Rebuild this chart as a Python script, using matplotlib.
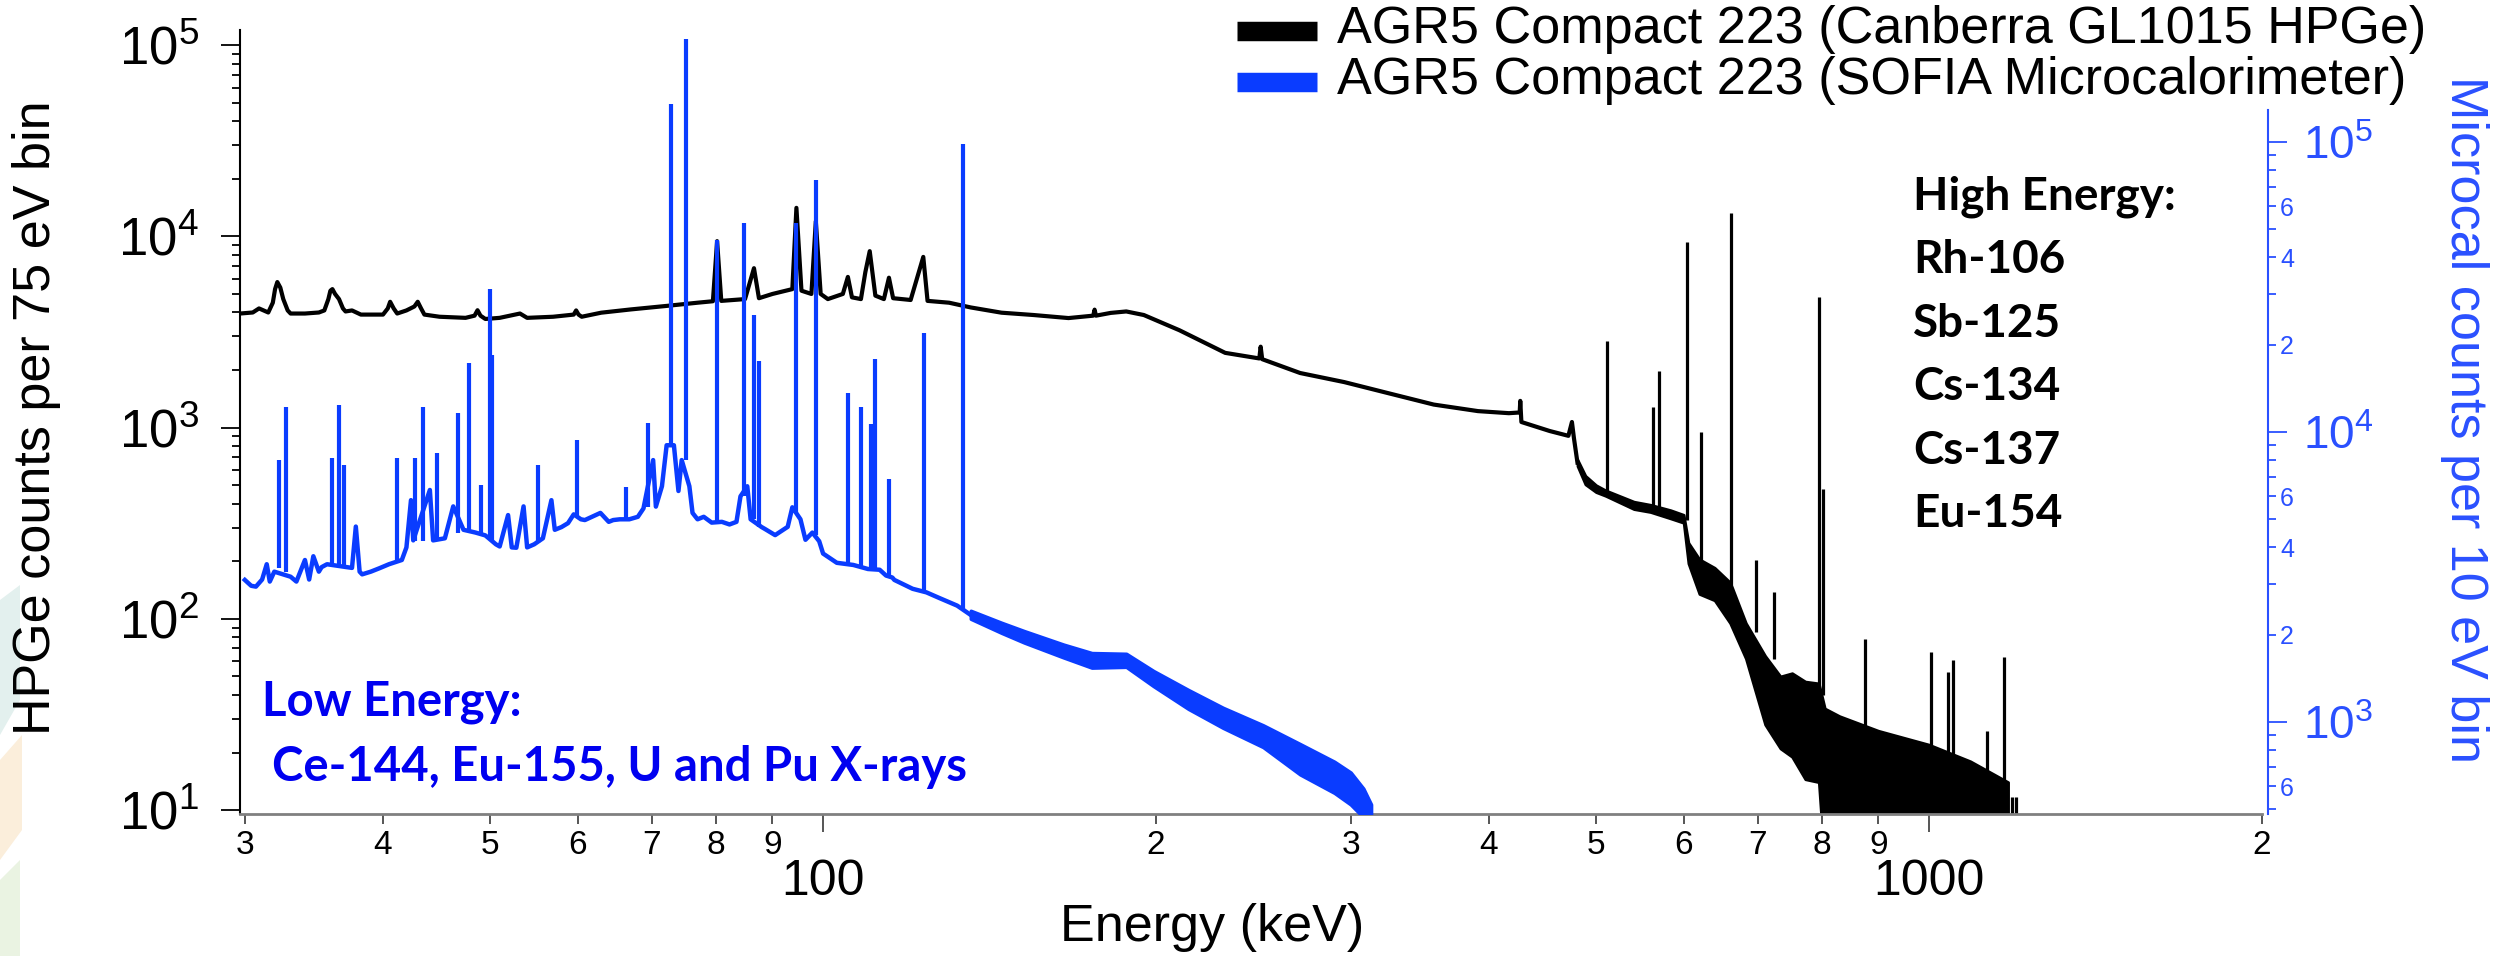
import numpy as np
import matplotlib
matplotlib.use("Agg")
import matplotlib.pyplot as plt
from matplotlib.ticker import FixedLocator, FixedFormatter, NullFormatter
from matplotlib.lines import Line2D
from matplotlib.patches import Polygon

plt.rcParams['font.family'] = ['Liberation Sans', 'DejaVu Sans']
plt.rcParams['mathtext.fontset'] = 'custom'
plt.rcParams['mathtext.rm'] = 'Liberation Sans'
plt.rcParams['mathtext.it'] = 'Liberation Sans:italic'
plt.rcParams['mathtext.bf'] = 'Liberation Sans:bold'

# ---------------- data ----------------
# HPGe spectrum (left axis), continuum + broad low-energy peaks
hpge_energy = [29.7, 30.5, 30.9, 31.5, 31.8, 31.95, 32.1, 32.3, 32.5, 32.8, 33.0, 34.0, 35.0, 35.4,
               35.7, 35.85, 36.0, 36.2, 36.5, 36.8, 37.0,
               37.5, 38.2, 40.0, 40.4, 40.6, 40.9, 41.2, 42.0, 42.7, 43.0, 43.3, 43.6, 45.0, 47.5,
               48.4, 48.7, 49.0, 49.5, 51.0, 53.2,
               54.0, 57.0, 59.5, 59.8, 60.1, 60.5, 63.0, 67.0, 72.2, 77.0, 79.5, 80.2, 80.9, 85.0,
               86.6, 87.5, 90.0, 93.8, 94.6, 95.6, 97.6, 98.5, 99.5, 101.0, 104.2, 105.3, 106.2,
               108.2, 109.2, 110.2, 111.5, 113.5, 114.7, 115.7, 120.0, 123.2, 124.3, 130.0, 136.0,
               145.0, 155.0, 166.7, 175.5, 176.0, 176.5, 182.0, 188.0, 195.0, 210.0, 231.0, 248.0,
               248.7, 249.5, 270.0, 296.0, 325.0, 356.6, 391.0, 417.0, 426.5, 427.0, 428.0, 454.0,
               472.0, 475.5, 477.5, 481.0]
hpge_counts = [3950, 4000, 4200, 4000, 4500, 5300, 5770, 5400, 4700, 4100, 3950, 3950, 4000, 4100,
               4700, 5200, 5300, 5000, 4700, 4200, 4050,
               4100, 3900, 3900, 4200, 4550, 4200, 3950, 4100, 4300, 4550, 4200, 3900, 3800, 3750,
               3850, 4110, 3850, 3700, 3750, 3950,
               3750, 3800, 3900, 4100, 3900, 3800, 3990, 4150, 4330, 4500, 4580, 9440, 4600, 4700,
               6820, 4750, 5000, 5300, 14100, 5200, 5000, 12000, 5000, 4700, 5000, 6140, 4800,
               4700, 6500, 8370, 4900, 4700, 6080, 4750, 4650, 7810, 4600, 4500, 4250,
               3990, 3880, 3740, 3850, 4140, 3850, 3980, 4050, 3880, 3230, 2460, 2300,
               2650, 2280, 1930, 1730, 1510, 1320, 1220, 1190, 1200, 1380, 1070, 960,
               906, 1070, 880, 656]
# HPGe noisy region above the Compton edge (envelope)
hpge_band_energy = [481, 489, 500, 510, 541, 560, 584, 600, 606, 620, 640, 661, 683, 711, 734,
                    752, 773, 795, 805, 830, 900, 1000, 1090, 1179]
hpge_band_high = [680, 560, 500, 470, 410, 395, 370, 350, 250, 205, 185, 155, 95, 64, 50,
                  52, 47, 46, 34, 31, 26, 22, 18, 14]
hpge_band_low = [630, 505, 460, 440, 375, 362, 335, 318, 195, 135, 125, 95, 62, 28, 21,
                 19, 14.5, 14, 5, 5, 5, 5, 5, 5]
# HPGe sharp gamma lines
hpge_peak_energy = [511.5, 563.5, 569.5, 604.7, 621.8, 661.7, 697.0, 724.0, 796.0, 801.8, 874.5,
                    1005.0, 1040.0, 1052.0, 1128.0, 1168.0]
hpge_peak_top = [2830, 1285, 1970, 9400, 948, 13300, 203, 138, 4810, 477, 78.5,
                 67, 53, 61, 26, 63]
hpge_peak_base = [455, 380, 370, 330, 195, 150, 85, 62, 45, 40, 27,
                  21, 20, 19, 16, 14]
hpge_stray_energy = [1188, 1199]
hpge_stray_top = [11.7, 11.7]
hpge_stray_base = [9.0, 9.0]

# Microcalorimeter spectrum (right axis), continuum
cal_energy = [30.0, 30.4, 30.7, 31.1, 31.4, 31.6, 31.9, 33.0, 33.4, 34.0, 34.3, 34.6, 35.0, 35.2,
              35.6, 37.1, 37.5, 37.8, 38.1, 38.3, 39.0, 39.7, 40.5, 41.6, 42.0, 42.4, 42.6, 44.1,
              44.4, 45.5, 46.3, 47.3, 48.5, 49.5, 50.6, 51.0, 51.9, 52.3, 52.8, 53.6, 54.0, 54.8,
              55.8, 56.8, 57.2, 58.0, 58.8, 59.5, 60.4, 60.9, 62.9, 64.0, 64.6, 65.5, 66.8, 68.0,
              68.8, 70.2, 70.6, 71.5, 72.2, 73.3, 74.0, 74.5, 75.7, 76.2, 77.0, 78.0, 79.3, 81.0,
              82.3, 83.5, 84.2, 85.4, 86.0, 88.0, 88.6, 90.5, 92.9, 93.8, 95.4, 96.4, 97.8, 99.2,
              100.0, 102.9, 106.5, 109.8, 112.5, 114.0, 115.5, 116.0, 120.5, 124.0, 127.3, 132.2,
              136.0]
cal_counts = [3090, 2950, 2930, 3100, 3500, 3050, 3300, 3170, 3050, 3620, 3100, 3730, 3300, 3420,
              3500, 3420, 3400, 4720, 3300, 3230, 3300, 3390, 3500, 3620, 4000, 5820, 4230, 6310,
              4230, 4300, 5540, 4600, 4500, 4400, 4100, 4030, 5170, 4000, 3990, 5540, 4000, 4100,
              4300, 5820, 4600, 4700, 4850, 5200, 5000, 4970, 5260, 4900, 4970, 5000, 5000, 5100,
              5450, 8000, 5530, 6500, 9000, 9000, 6260, 8000, 6500, 5260, 5000, 5100, 4870, 4900,
              4800, 4900, 6000, 6500, 5000, 4700, 4630, 4410, 4710, 5500, 5000, 4250, 4500, 4200,
              3810, 3540, 3480, 3370, 3350, 3200, 3150, 3090, 2880, 2800, 2680, 2520,
              2340]
# Microcalorimeter noisy tail (envelope)
cal_band_energy = [136, 145, 152, 165, 175, 188, 199, 214, 230, 250, 270, 290, 300, 308, 313]
cal_band_high = [2420, 2200, 2060, 1850, 1730, 1720, 1500, 1290, 1120, 975, 840, 730, 670, 590, 520]
cal_band_low = [2270, 2030, 1880, 1670, 1540, 1550, 1330, 1110, 955, 820, 660, 570, 520, 470, 470]
# Microcalorimeter lines
cal_peak_energy = [32.2, 32.7, 36.0, 36.5, 36.9, 41.2, 42.8, 43.5, 44.8, 46.8, 47.8, 49.1, 50.0,
                   50.2, 55.2, 59.9, 66.3, 69.5, 72.8, 75.2, 80.2, 84.8, 86.6, 87.6, 94.6, 98.5,
                   105.3, 108.3, 110.5, 111.5, 114.7, 123.3, 133.8]
cal_peak_top = [8000, 12200, 8130, 12400, 7690, 8130, 8130, 12200, 8460, 11620, 17300, 6570, 31000,
                18400, 7690, 9390, 6440, 10740, 135000, 226000, 45900, 52600, 25400, 17500, 52600,
                74000, 13600, 12200, 10670, 17900, 6880, 22000, 98600]
cal_peak_base = [3400, 3300, 3500, 3500, 3450, 3550, 4200, 4200, 4250, 4500, 4550, 4450, 4300,
                 4200, 4150, 5100, 5000, 5500, 9000, 8000, 4900, 6000, 5000, 4700, 5300,
                 4400, 3500, 3450, 3400, 3380, 3200, 2850, 2450]

series_labels = ["AGR5 Compact 223 (Canberra GL1015 HPGe)",
                 "AGR5 Compact 223 (SOFIA Microcalorimeter)"]
high_energy_lines = ["High Energy:", "Rh-106", "Sb-125", "Cs-134", "Cs-137", "Eu-154"]
low_energy_lines = ["Low Energy:", "Ce-144, Eu-155, U and Pu X-rays"]

x_major = [100, 1000]
x_major_labels = ["100", "1000"]
x_minor = [30, 40, 50, 60, 70, 80, 90, 200, 300, 400, 500, 600, 700, 800, 900, 2000]
x_minor_labels = ["3", "4", "5", "6", "7", "8", "9", "2", "3", "4", "5", "6", "7", "8", "9", "2"]
yl_major = [10, 100, 1000, 10000, 100000]
yl_major_labels = [r"$\mathregular{10^{1}}$", r"$\mathregular{10^{2}}$", r"$\mathregular{10^{3}}$",
                   r"$\mathregular{10^{4}}$", r"$\mathregular{10^{5}}$"]
yr_major = [1000, 10000, 100000]
yr_major_labels = [r"$\mathregular{10^{3}}$", r"$\mathregular{10^{4}}$", r"$\mathregular{10^{5}}$"]
yr_minor = [500, 600, 700, 800, 900, 2000, 3000, 4000, 5000, 6000, 7000, 8000, 9000,
            20000, 30000, 40000, 50000, 60000, 70000, 80000, 90000]
yr_minor_labels = ["", "6", "", "", "", "2", "", "4", "", "6", "", "", "",
                   "2", "", "4", "", "6", "", "", ""]

# ---------------- figure ----------------
W, H = 2496, 956
BLUE = "#0a3cff"
AXBLUE = "#2a50ff"
TXTBLUE = "#0000f0"

fig = plt.figure(figsize=(W / 100, H / 100), dpi=100)

# faint slide-background shapes at the left edge
for pts, col in [([(0, 600), (20, 585), (20, 700), (0, 735)], "#e3f0ee"),
                 ([(0, 760), (22, 735), (22, 830), (0, 860)], "#fbeedb"),
                 ([(0, 880), (20, 860), (20, 956), (0, 956)], "#eaf3e2")]:
    fig.add_artist(Polygon([(x / W, 1 - y / H) for x, y in pts], closed=True,
                           transform=fig.transFigure, facecolor=col, edgecolor="none", zorder=0))

x0, x1, ytop, ybot = 240, 2262, 30, 813.5
ax = fig.add_axes([x0 / W, 1 - ybot / H, (x1 - x0) / W, (ybot - ytop) / H])
ax.patch.set_alpha(0)
ax.set_xscale("log")
ax.set_yscale("log")
ax.set_xlim(29.7, 2000.5)
ax.set_ylim(9.6, 1.2e5)

ax2 = ax.twinx()
ax2.set_yscale("log")
ax2.set_ylim(484, 2.43e5)

# HPGe
ax.plot(hpge_energy, hpge_counts, color="black", lw=3.0, zorder=2)
ax.fill_between(hpge_band_energy, hpge_band_low, hpge_band_high, color="black", lw=2, zorder=2)
ax.vlines(hpge_peak_energy, hpge_peak_base, hpge_peak_top, color="black", lw=2.3, zorder=2)
ax.vlines(hpge_stray_energy, hpge_stray_base, hpge_stray_top, color="black", lw=2.3, zorder=2)

# Microcalorimeter
ax2.plot(cal_energy, cal_counts, color=BLUE, lw=3.2, zorder=3)
ax2.fill_between(cal_band_energy, cal_band_low, cal_band_high, color=BLUE, lw=2.5, zorder=3)
ax2.vlines(cal_peak_energy, cal_peak_base, cal_peak_top, color=BLUE, lw=3.0, zorder=3)

# spines
for s in ["top", "right"]:
    ax.spines[s].set_visible(False)
ax.spines["left"].set_linewidth(1.5)
ax.spines["bottom"].set_linewidth(2.0)
ax.spines["bottom"].set_color("#808080")
for s in ["top", "left", "bottom"]:
    ax2.spines[s].set_visible(False)
ax2.spines["right"].set_color(AXBLUE)
ax2.spines["right"].set_linewidth(1.5)
ax2.spines["right"].set_position(("outward", 4))
ax2.spines["right"].set_bounds(484, 1.29e5)

# x ticks
ax.xaxis.set_major_locator(FixedLocator(x_major))
ax.xaxis.set_major_formatter(FixedFormatter(x_major_labels))
ax.xaxis.set_minor_locator(FixedLocator(x_minor))
ax.xaxis.set_minor_formatter(FixedFormatter(x_minor_labels))
ax.tick_params(axis="x", which="major", length=13, width=1.4, color="#555555",
               labelsize=36, pad=20)
ax.tick_params(axis="x", which="minor", length=7, width=1.4, color="#555555",
               labelsize=24, pad=5)

# left y ticks
ax.yaxis.set_major_locator(FixedLocator(yl_major))
ax.yaxis.set_major_formatter(FixedFormatter(yl_major_labels))
yl_minor = [m * d for d in [10, 100, 1000, 10000] for m in range(2, 10)]
ax.yaxis.set_minor_locator(FixedLocator(yl_minor))
ax.yaxis.set_minor_formatter(NullFormatter())
ax.tick_params(axis="y", which="major", length=13.5, width=1.3, labelsize=38, pad=16)
ax.tick_params(axis="y", which="minor", length=6, width=1.3)

# right y ticks
ax2.yaxis.set_major_locator(FixedLocator(yr_major))
ax2.yaxis.set_major_formatter(FixedFormatter(yr_major_labels))
ax2.yaxis.set_minor_locator(FixedLocator(yr_minor))
ax2.yaxis.set_minor_formatter(FixedFormatter(yr_minor_labels))
ax2.tick_params(axis="y", which="major", length=13.5, width=1.3, color=AXBLUE,
                labelcolor=AXBLUE, labelsize=33, pad=12)
ax2.tick_params(axis="y", which="minor", length=6, width=1.3, color=AXBLUE,
                labelcolor=AXBLUE, labelsize=18, pad=3)

# axis labels
fig.text(37 / W, 1 - 418 / H, "HPGe counts per 75 eV bin", rotation=90, fontsize=37.5,
         ha="center", va="center")
fig.text(2464 / W, 1 - 420 / H, "Microcal counts per 10 eV bin", rotation=270, fontsize=37.5,
         ha="center", va="center", color=AXBLUE)
fig.text(1212 / W, 1 - 928 / H, "Energy (keV)", fontsize=37.5, ha="center", va="center")

# legend (manual, above the plot)
legend_colors = ["black", BLUE]
for i, (lab, col) in enumerate(zip(series_labels, legend_colors)):
    yc = 31 + 51 * i
    fig.add_artist(Line2D([1237 / W, 1317 / W], [1 - yc / H, 1 - yc / H], color=col, lw=14,
                          solid_capstyle="butt", transform=fig.transFigure))
    fig.text(1337 / W, 1 - (yc + 12) / H, lab, fontsize=37.5, ha="left", va="baseline")

# annotations
for i, s in enumerate(high_energy_lines):
    fig.text(1913 / W, 1 - (197 + 63.4 * i) / H, s, fontsize=33, fontweight="bold",
             family=["Lato", "DejaVu Sans"], ha="left", va="center", color="black")
low_pos = [(262, 702), (272, 767)]
for s, (px, py) in zip(low_energy_lines, low_pos):
    fig.text(px / W, 1 - py / H, s, fontsize=34, fontweight="bold",
             family=["Lato", "DejaVu Sans"], ha="left", va="center", color=TXTBLUE)

fig.savefig("out.png", dpi=100)
